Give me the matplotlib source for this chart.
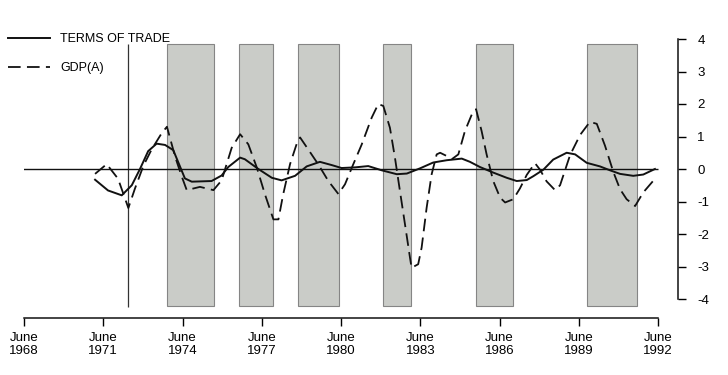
import matplotlib
matplotlib.use("Agg")
import matplotlib.pyplot as plt
from matplotlib.patches import Rectangle
import numpy as np

plt.rcParams['font.family'] = ['Liberation Sans', 'DejaVu Sans']
plt.rcParams['axes.unicode_minus'] = False

# ---- data (decimal years) ----
tot_dates = [1971.19, 1971.68, 1972.20, 1972.58, 1972.89, 1973.20, 1973.52, 1973.84,
             1974.15, 1974.59, 1974.85, 1975.60, 1975.98, 1976.23, 1976.68, 1976.86,
             1977.37, 1977.88, 1978.25, 1978.76, 1979.20, 1979.70, 1980.15, 1980.52,
             1981.03, 1981.53, 1982.04, 1982.61, 1982.99, 1983.49, 1983.99, 1984.50,
             1985.07, 1985.38, 1985.76, 1986.26, 1986.77, 1987.15, 1987.53, 1987.78,
             1988.16, 1988.53, 1989.04, 1989.36, 1989.80, 1990.30, 1990.68, 1991.06,
             1991.56, 1991.94, 1992.38]
tot_values = [-0.33, -0.66, -0.81, -0.50, 0.00, 0.55, 0.78, 0.74,
              0.58, -0.29, -0.39, -0.37, -0.20, 0.06, 0.35, 0.30,
              0.00, -0.27, -0.35, -0.21, 0.08, 0.22, 0.12, 0.03,
              0.05, 0.09, -0.04, -0.16, -0.14, 0.02, 0.20, 0.27,
              0.32, 0.22, 0.06, -0.11, -0.27, -0.37, -0.34, -0.22,
              -0.02, 0.29, 0.50, 0.45, 0.19, 0.08, -0.04, -0.15,
              -0.21, -0.17, 0.00]

gdp_dates = [1971.19, 1971.63, 1972.06, 1972.45, 1972.70, 1973.02, 1973.33, 1973.71,
             1973.91, 1974.22, 1974.47, 1974.66, 1975.16, 1975.67, 1975.98, 1976.36,
             1976.68, 1976.99, 1977.31, 1977.62, 1977.94, 1978.13, 1978.31, 1978.57,
             1978.82, 1978.95, 1979.26, 1979.64, 1980.02, 1980.40, 1980.65, 1980.96,
             1981.28, 1981.66, 1981.91, 1982.10, 1982.35, 1982.54, 1982.73, 1982.92,
             1983.11, 1983.17, 1983.42, 1983.55, 1983.74, 1983.93, 1984.12, 1984.25,
             1984.50, 1984.69, 1984.94, 1985.19, 1985.45, 1985.61, 1985.82, 1986.01,
             1986.26, 1986.52, 1986.71, 1987.02, 1987.27, 1987.53, 1987.84, 1988.03,
             1988.28, 1988.60, 1988.79, 1989.17, 1989.55, 1989.92, 1990.18, 1990.49,
             1990.81, 1991.06, 1991.31, 1991.63, 1991.94, 1992.32, 1992.46]
gdp_values = [-0.15, 0.15, -0.30, -1.20, -0.60, 0.10, 0.60, 1.10,
              1.30, 0.38, -0.23, -0.65, -0.55, -0.65, -0.35, 0.65,
              1.07, 0.76, 0.05, -0.78, -1.55, -1.55, -0.78, 0.15,
              0.77, 0.97, 0.60, 0.14, -0.37, -0.77, -0.47, 0.14,
              0.75, 1.58, 2.00, 1.94, 1.27, 0.35, -0.68, -1.70,
              -2.73, -3.04, -2.93, -2.42, -1.19, -0.16, 0.45, 0.50,
              0.40, 0.30, 0.45, 1.17, 1.68, 1.84, 1.17, 0.45,
              -0.37, -0.88, -1.03, -0.93, -0.60, -0.18, 0.18, -0.02,
              -0.38, -0.65, -0.50, 0.43, 1.05, 1.45, 1.39, 0.72,
              -0.10, -0.62, -0.93, -1.14, -0.72, -0.36, -0.30]

shade_starts = [1973.91, 1976.64, 1978.87, 1982.09, 1985.61, 1989.81]
shade_ends = [1975.69, 1977.92, 1980.42, 1983.15, 1987.01, 1991.70]
event_line = 1972.44

tick_years = [1968, 1971, 1974, 1977, 1980, 1983, 1986, 1989, 1992]
tick_labels = [f"June\n{y}" for y in tick_years]
y_ticks = [-4, -3, -2, -1, 0, 1, 2, 3, 4]

# ---- figure ----
fig = plt.figure(figsize=(7.28, 3.75), dpi=100)
ax = fig.add_axes([24/728, 57/375, 654/728, 279/375])
tick_pos = [y + 0.5 for y in tick_years]
ax.set_xlim(tick_pos[0], tick_pos[0] + 654/26.42)
ax.set_ylim(4 - 279/32.5, 4)

shade_col = '#caccc8'
for s, e in zip(shade_starts, shade_ends):
    ax.add_patch(Rectangle((s, -4.2), e - s, 8.05, facecolor=shade_col,
                           edgecolor='#858585', linewidth=0.8, zorder=1))

ax.vlines(event_line, -4.25, 3.85, color='#333333', linewidth=0.9, zorder=2)
ax.hlines(0, tick_pos[0] - 0.08, tick_pos[-1], color='#111111', linewidth=1.0, zorder=2)

ax.plot(tot_dates, tot_values, color='#111111', linewidth=1.4, zorder=3,
        label='TERMS OF TRADE')
ax.plot(gdp_dates, gdp_values, color='#111111', linewidth=1.3, zorder=3,
        dashes=(7, 3.5), label='GDP(A)')

for side in ['top', 'left']:
    ax.spines[side].set_visible(False)
ax.spines['right'].set_bounds(-4, 4)
ax.spines['bottom'].set_bounds(tick_pos[0], tick_pos[-1])
for side in ['right', 'bottom']:
    ax.spines[side].set_linewidth(1.1)
    ax.spines[side].set_color('#111111')

ax.set_xticks(tick_pos)
ax.set_xticklabels(tick_labels, fontsize=9.5, linespacing=1.15)
ax.set_yticks(y_ticks)
ax.set_yticklabels([str(v) for v in y_ticks], fontsize=9.5)
ax.yaxis.tick_right()
ax.tick_params(axis='y', direction='out', length=6, width=1.0, pad=8)
ax.tick_params(axis='x', direction='out', length=6, width=1.0, pad=4)

leg = ax.legend(loc='upper left', bbox_to_anchor=(8/728, 0.912),
                bbox_transform=fig.transFigure, frameon=False, fontsize=9,
                handlelength=3.4, handletextpad=0.8, labelspacing=1.35,
                borderpad=0, borderaxespad=0)

fig.savefig('out.png', dpi=100)
